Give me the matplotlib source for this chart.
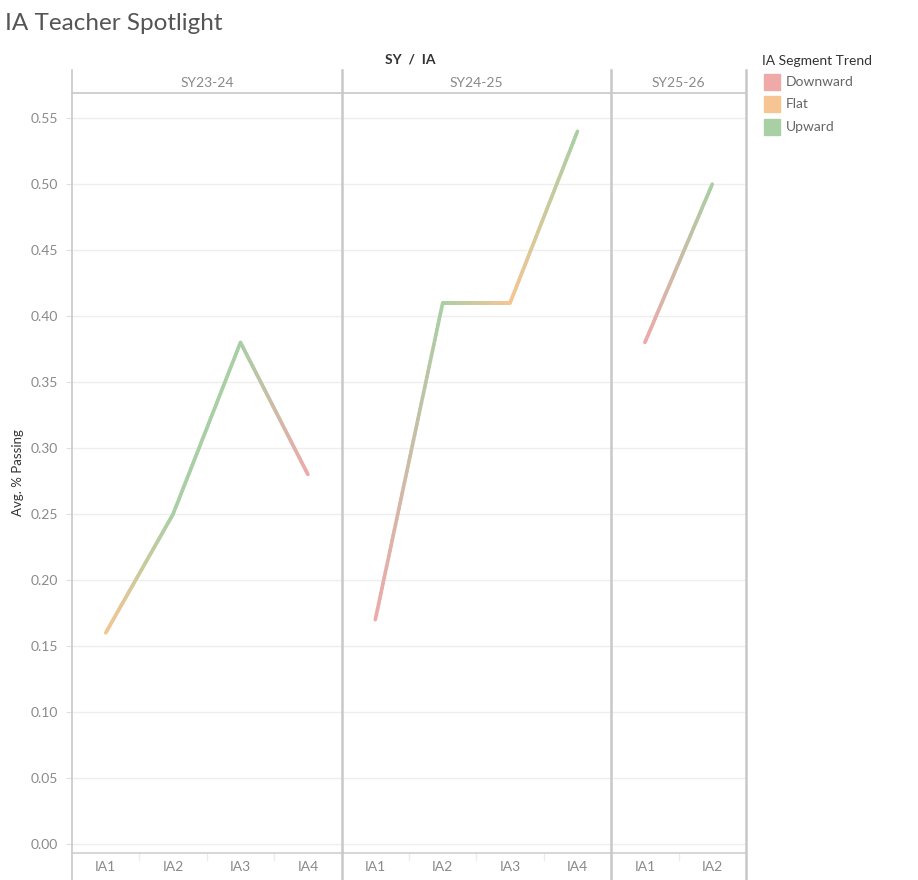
import matplotlib
matplotlib.use("Agg")
import matplotlib.pyplot as plt
import matplotlib.transforms as mtrans
import numpy as np
from matplotlib.collections import LineCollection
from matplotlib.colors import to_rgb

plt.rcParams['font.family'] = ['Lato', 'DejaVu Sans']

# ---- data ----
school_years = ["SY23-24", "SY24-25", "SY25-26"]
ia_labels = [["IA1", "IA2", "IA3", "IA4"], ["IA1", "IA2", "IA3", "IA4"], ["IA1", "IA2"]]
values = [[0.16, 0.25, 0.38, 0.28], [0.17, 0.41, 0.41, 0.54], [0.38, 0.50]]
trends = [["Flat", "Upward", "Upward", "Downward"],
          ["Downward", "Upward", "Flat", "Upward"],
          ["Downward", "Upward"]]
trend_names = ["Downward", "Flat", "Upward"]
trend_colors = {"Downward": "#efa9a9", "Flat": "#f6c593", "Upward": "#a9cfa4"}
y_ticks = [0.00, 0.05, 0.10, 0.15, 0.20, 0.25, 0.30, 0.35, 0.40, 0.45, 0.50, 0.55]

W, H = 918, 880
fig = plt.figure(figsize=(W / 100, H / 100), dpi=100)

def fx(px):
    return px / W

def fy(py):
    return 1 - py / H

left, right, top, bottom = 72, 746, 93, 853
ax = fig.add_axes([fx(left), fy(bottom), fx(right) - fx(left), fy(top) - fy(bottom)])
ncols = sum(len(l) for l in ia_labels)
ax.set_xlim(0, ncols)
ax.set_ylim(-0.0068, 0.569)

grid_c = "#eeeeee"
div_c = "#c8c8c8"
txt_c = "#8a8a8a"

for t in y_ticks:
    ax.axhline(t, color=grid_c, lw=1, zorder=0)
ax.set_yticks(y_ticks)
ax.set_yticklabels([f"{t:.2f}" for t in y_ticks], color=txt_c, fontsize=10)
ax.tick_params(axis='y', length=4, color="#e0e0e0", pad=6)
ax.tick_params(axis='x', length=0)
ax.set_xticks([])
for s in ["top", "right", "left", "bottom"]:
    ax.spines[s].set_visible(False)

fig.text(fx(18), fy(473), "Avg. % Passing", rotation=90, ha='center', va='center',
         fontsize=9.5, color="#333333")

label_tf = ax.transData + mtrans.ScaledTranslation(0, -8 / 100, fig.dpi_scale_trans)

# lines with gradient
start = 0
boundaries = [0]
for yi, (vals, trs, labs) in enumerate(zip(values, trends, ia_labels)):
    xs = np.array([start + i + 0.5 for i in range(len(vals))])
    ys = np.array(vals)
    segs, cols = [], []
    for i in range(len(vals) - 1):
        c0 = np.array(to_rgb(trend_colors[trs[i]]))
        c1 = np.array(to_rgb(trend_colors[trs[i + 1]]))
        n = 60
        tt = np.linspace(0, 1, n + 1)
        px = xs[i] + (xs[i + 1] - xs[i]) * tt
        py = ys[i] + (ys[i + 1] - ys[i]) * tt
        for k in range(n):
            segs.append([(px[k], py[k]), (px[k + 1], py[k + 1])])
            f = (k + 0.5) / n
            cols.append(c0 * (1 - f) + c1 * f)
    lc = LineCollection(segs, colors=cols, linewidths=2.6, capstyle='round', zorder=3)
    ax.add_collection(lc)
    for i, lab in enumerate(labs):
        ax.text(start + i + 0.5, -0.0068, lab, transform=label_tf, ha='center', va='top',
                fontsize=10, color=txt_c, clip_on=False)
    for i in range(1, len(labs)):
        x = start + i
        fig.add_artist(plt.Line2D([fx(left + x * (right - left) / ncols)] * 2, [fy(853), fy(860)],
                                  color="#ececec", lw=1))
    start += len(vals)
    boundaries.append(start)

# bottom axis line
fig.add_artist(plt.Line2D([fx(left), fx(right)], [fy(bottom), fy(bottom)], color="#d0d0d0", lw=1.2))

# vertical dividers
for b in boundaries:
    xpx = left + b * (right - left) / ncols
    lw = 1.2 if b == 0 else 1.8
    fig.add_artist(plt.Line2D([fx(xpx), fx(xpx)], [fy(70), fy(880)], color=div_c, lw=lw))

# header line
fig.add_artist(plt.Line2D([fx(left), fx(right)], [fy(93), fy(93)], color=div_c, lw=1.2))

# header labels
for yi, sy in enumerate(school_years):
    x0 = left + boundaries[yi] * (right - left) / ncols
    x1 = left + boundaries[yi + 1] * (right - left) / ncols
    fig.text(fx((x0 + x1) / 2), fy(83), sy, ha='center', va='center', fontsize=10, color=txt_c)

fig.text(fx(410), fy(60), "SY  /  IA", ha='center', va='center', fontsize=10, color="#333333",
         fontweight='bold')

fig.text(fx(5), fy(24), "IA Teacher Spotlight", ha='left', va='center', fontsize=17.5,
         color="#555555", fontweight='normal')

# legend
fig.text(fx(762), fy(61), "IA Segment Trend", ha='left', va='center', fontsize=10, color="#333333")
for i, name in enumerate(trend_names):
    yc = 82 + i * 22.5
    fig.add_artist(plt.Rectangle((fx(764), fy(yc + 8)), fx(16), fy(0) - fy(16),
                                 color=trend_colors[name], transform=fig.transFigure))
    fig.text(fx(786), fy(yc), name, ha='left', va='center', fontsize=10, color="#666666")

fig.savefig("out.png", dpi=100)
